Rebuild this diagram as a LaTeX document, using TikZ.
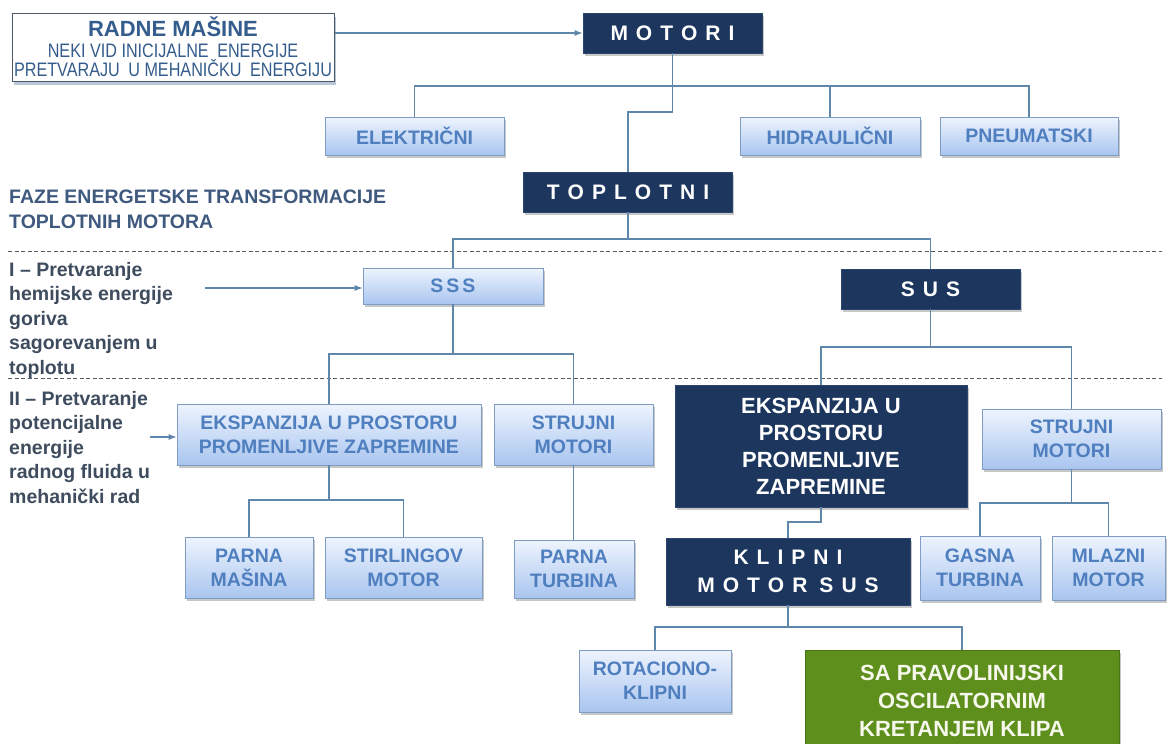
\documentclass[tikz,border=0pt]{standalone}
\usepackage{fontspec}
\setmainfont{Liberation Sans}
\newfontfamily\narrowfont[FakeStretch=0.83]{Liberation Sans}
\usetikzlibrary{arrows.meta,shadows}
\definecolor{navy}{HTML}{1C365E}
\definecolor{navyborder}{HTML}{2A4670}
\definecolor{boxtop}{HTML}{EEF4FE}
\definecolor{boxbot}{HTML}{A9C5EF}
\definecolor{boxborder}{HTML}{7F9CC4}
\definecolor{lbtext}{HTML}{4F7FBF}
\definecolor{conncol}{HTML}{5F87A9}
\definecolor{dashcol}{HTML}{555A60}
\definecolor{stagetext}{HTML}{3E4C5E}
\definecolor{fazetext}{HTML}{3F5A7E}
\definecolor{titletext}{HTML}{345C8C}
\definecolor{radneborder}{HTML}{4A5868}
\definecolor{greenfill}{HTML}{5E8E1B}
\definecolor{greentext}{HTML}{F6F8EC}
\newlength\lspgap
\setlength\lspgap{8pt}
\def\lspA#1{\ifx\relax#1\else#1\kern\lspgap\expandafter\lspA\fi}
\newcommand\lsp[1]{\lspA#1\relax\unkern}
\tikzset{
  shad/.style={drop shadow={shadow xshift=1.5pt,shadow yshift=-2.5pt,fill=black,opacity=0.22}},
  lbox/.style={shad,draw=boxborder,line width=0.7pt,top color=boxtop,bottom color=boxbot,
    text=lbtext,font=\bfseries\fontsize{19.5}{24}\selectfont,align=center,inner sep=0pt},
  nbox/.style={shad,draw=navyborder,line width=0.7pt,fill=navy,text=white,
    font=\bfseries\fontsize{21}{28.5}\selectfont,align=center,inner sep=0pt},
  gbox/.style={shad,draw=greenfill!80!black,line width=0.7pt,fill=greenfill,text=greentext,
    font=\bfseries\fontsize{22}{28}\selectfont,align=center,inner sep=0pt},
  rbox/.style={drop shadow={shadow xshift=2pt,shadow yshift=-3.5pt,fill=titletext,opacity=0.35},
    draw=radneborder,line width=1pt,fill=white,text=titletext,align=center,inner sep=0pt,
    font=\narrowfont\fontsize{19.5}{19.5}\selectfont},
  stage/.style={text=stagetext,font=\bfseries\fontsize{19.5}{24.5}\selectfont,align=left,inner sep=0pt},
  faze/.style={text=fazetext,font=\bfseries\fontsize{19.5}{24.5}\selectfont,align=left,inner sep=0pt},
  conn/.style={draw=conncol,line width=1.1pt},
  arr/.style={conn,-{Latex[length=8pt,width=6pt]}},
  sepline/.style={draw=dashcol,line width=0.8pt,dash pattern=on 4pt off 2.5pt}
}
\begin{document}
\begin{tikzpicture}[x=1pt,y=-1pt]
\useasboundingbox (0,0) rectangle (1167,744);
\clip (0,0) rectangle (1167,744);
\fill[white] (0,0) rectangle (1167,744);
% dashed separators
\coordinate (d1s) at (8,251); \coordinate (d1e) at (1162,251);
\coordinate (d2s) at (8,378); \coordinate (d2e) at (1162,378);
\draw[sepline] (d1s) -- (d1e);
\draw[sepline] (d2s) -- (d2e);
% boxes
\node[rbox,minimum width=322pt,minimum height=68pt] (radne) at (173,47)
  {{\fontspec{Liberation Sans}\bfseries\fontsize{22}{22}\selectfont RADNE MAŠINE}\\[1pt]
   NEKI VID INICIJALNE\hspace{4pt} ENERGIJE\\ PRETVARAJU\hspace{4pt} U MEHANIČKU\hspace{4pt} ENERGIJU};
\node[nbox,minimum width=179pt,minimum height=40pt] (motori) at (672.5,33) {\lsp{MOTORI}};
\node[lbox,minimum width=179pt,minimum height=38pt] (elek) at (414.5,136) {ELEKTRIČNI};
\node[lbox,minimum width=180pt,minimum height=38pt] (hidr) at (830,136) {HIDRAULIČNI};
\node[lbox,minimum width=178pt,minimum height=38pt] (pneu) at (1029,136) {PNEUMATSKI};
\node[nbox,minimum width=209pt,minimum height=40pt] (toplotni) at (628,192) {\lsp{TOPLOTNI}};
\node[lbox,minimum width=180pt,minimum height=36pt] (sss) at (453,286) {\setlength\lspgap{3pt}\lsp{SSS}};
\node[nbox,minimum width=179pt,minimum height=40pt] (sus) at (930.5,289) {\lsp{SUS}};
\node[lbox,minimum width=304pt,minimum height=61pt] (ekspl) at (329,434.5)
  {EKSPANZIJA U PROSTORU\\PROMENLJIVE ZAPREMINE};
\node[lbox,minimum width=159pt,minimum height=61pt] (strl) at (573.5,434.5) {STRUJNI\\MOTORI};
\node[nbox,minimum width=292pt,minimum height=122pt,font=\bfseries\fontsize{22}{27}\selectfont]
  (ekspn) at (821,446) {EKSPANZIJA U\\PROSTORU\\PROMENLJIVE\\ZAPREMINE};
\node[lbox,minimum width=179pt,minimum height=60pt] (strr) at (1071.5,439) {STRUJNI\\MOTORI};
\node[lbox,minimum width=128pt,minimum height=61pt] (parnam) at (249,567.5) {PARNA\\MAŠINA};
\node[lbox,minimum width=157pt,minimum height=61pt] (stirl) at (403.5,567.5) {STIRLINGOV\\MOTOR};
\node[lbox,minimum width=120pt,minimum height=58pt] (parnat) at (574,569) {PARNA\\TURBINA};
\node[nbox,minimum width=244pt,minimum height=67pt] (klipni) at (788,571.5)
  {\lsp{KLIPNI}\\\lsp{MOTOR}\hspace{12pt}\lsp{SUS}};
\node[lbox,minimum width=120pt,minimum height=64pt] (gasna) at (980,568) {GASNA\\TURBINA};
\node[lbox,minimum width=113pt,minimum height=64pt] (mlazni) at (1108.5,568) {MLAZNI\\MOTOR};
\node[lbox,minimum width=152pt,minimum height=62pt] (rotac) at (655,681) {ROTACIONO-\\KLIPNI};
\node[gbox,minimum width=314pt,minimum height=102pt] (green) at (962,701)
  {SA PRAVOLINIJSKI\\OSCILATORNIM\\KRETANJEM KLIPA};
% left texts
\node[faze,anchor=north west] (faze) at (9,190) {FAZE ENERGETSKE TRANSFORMACIJE\\TOPLOTNIH MOTORA};
\node[stage,anchor=north west] (st1) at (9,262) {I – Pretvaranje\\hemijske energije\\goriva\\sagorevanjem u\\toplotu};
\node[stage,anchor=north west] (st2) at (9,391) {II – Pretvaranje\\potencijalne\\energije\\radnog fluida u\\mehanički rad};
% connectors
\draw[arr] (radne.east |- motori.west) -- (motori.west);
\coordinate (m1) at (628,112);
\draw[conn] (motori.south) |- (m1) -- (m1 |- toplotni.north);
\coordinate (b1) at (0,86);
\draw[conn] (elek.north) |- (b1 -| pneu.north) -- (pneu.north);
\draw[conn] (hidr.north) -- (hidr.north |- b1);
\coordinate (b2) at (0,239);
\draw[conn] (toplotni.south) -- (toplotni.south |- b2);
\draw[conn] (sss.north) |- (b2 -| sus.north) -- (sus.north);
\coordinate (a1) at (205,288);
\draw[arr] (a1) -- (a1 -| sss.west);
\coordinate (b3) at (0,354);
\draw[conn] (sss.south) -- (sss.south |- b3);
\draw[conn] (ekspl.north) |- (b3 -| strl.north) -- (strl.north);
\coordinate (b4) at (0,347);
\draw[conn] (sus.south) -- (sus.south |- b4);
\draw[conn] (ekspn.north) |- (b4 -| strr.north) -- (strr.north);
\coordinate (a2) at (150,437);
\draw[arr] (a2) -- (a2 -| ekspl.west);
\coordinate (b5) at (0,500);
\draw[conn] (ekspl.south) -- (ekspl.south |- b5);
\draw[conn] (parnam.north) |- (b5 -| stirl.north) -- (stirl.north);
\draw[conn] (strl.south) -- (strl.south |- parnat.north);
\coordinate (k1) at (0,522);
\draw[conn] (ekspn.south) |- (k1 -| klipni.north) -- (klipni.north);
\coordinate (b6) at (0,503);
\draw[conn] (strr.south) -- (strr.south |- b6);
\draw[conn] (gasna.north) |- (b6 -| mlazni.north) -- (mlazni.north);
\coordinate (b7) at (0,627);
\draw[conn] (klipni.south) -- (klipni.south |- b7);
\draw[conn] (rotac.north) |- (b7 -| green.north) -- (green.north);
\end{tikzpicture}
\end{document}
